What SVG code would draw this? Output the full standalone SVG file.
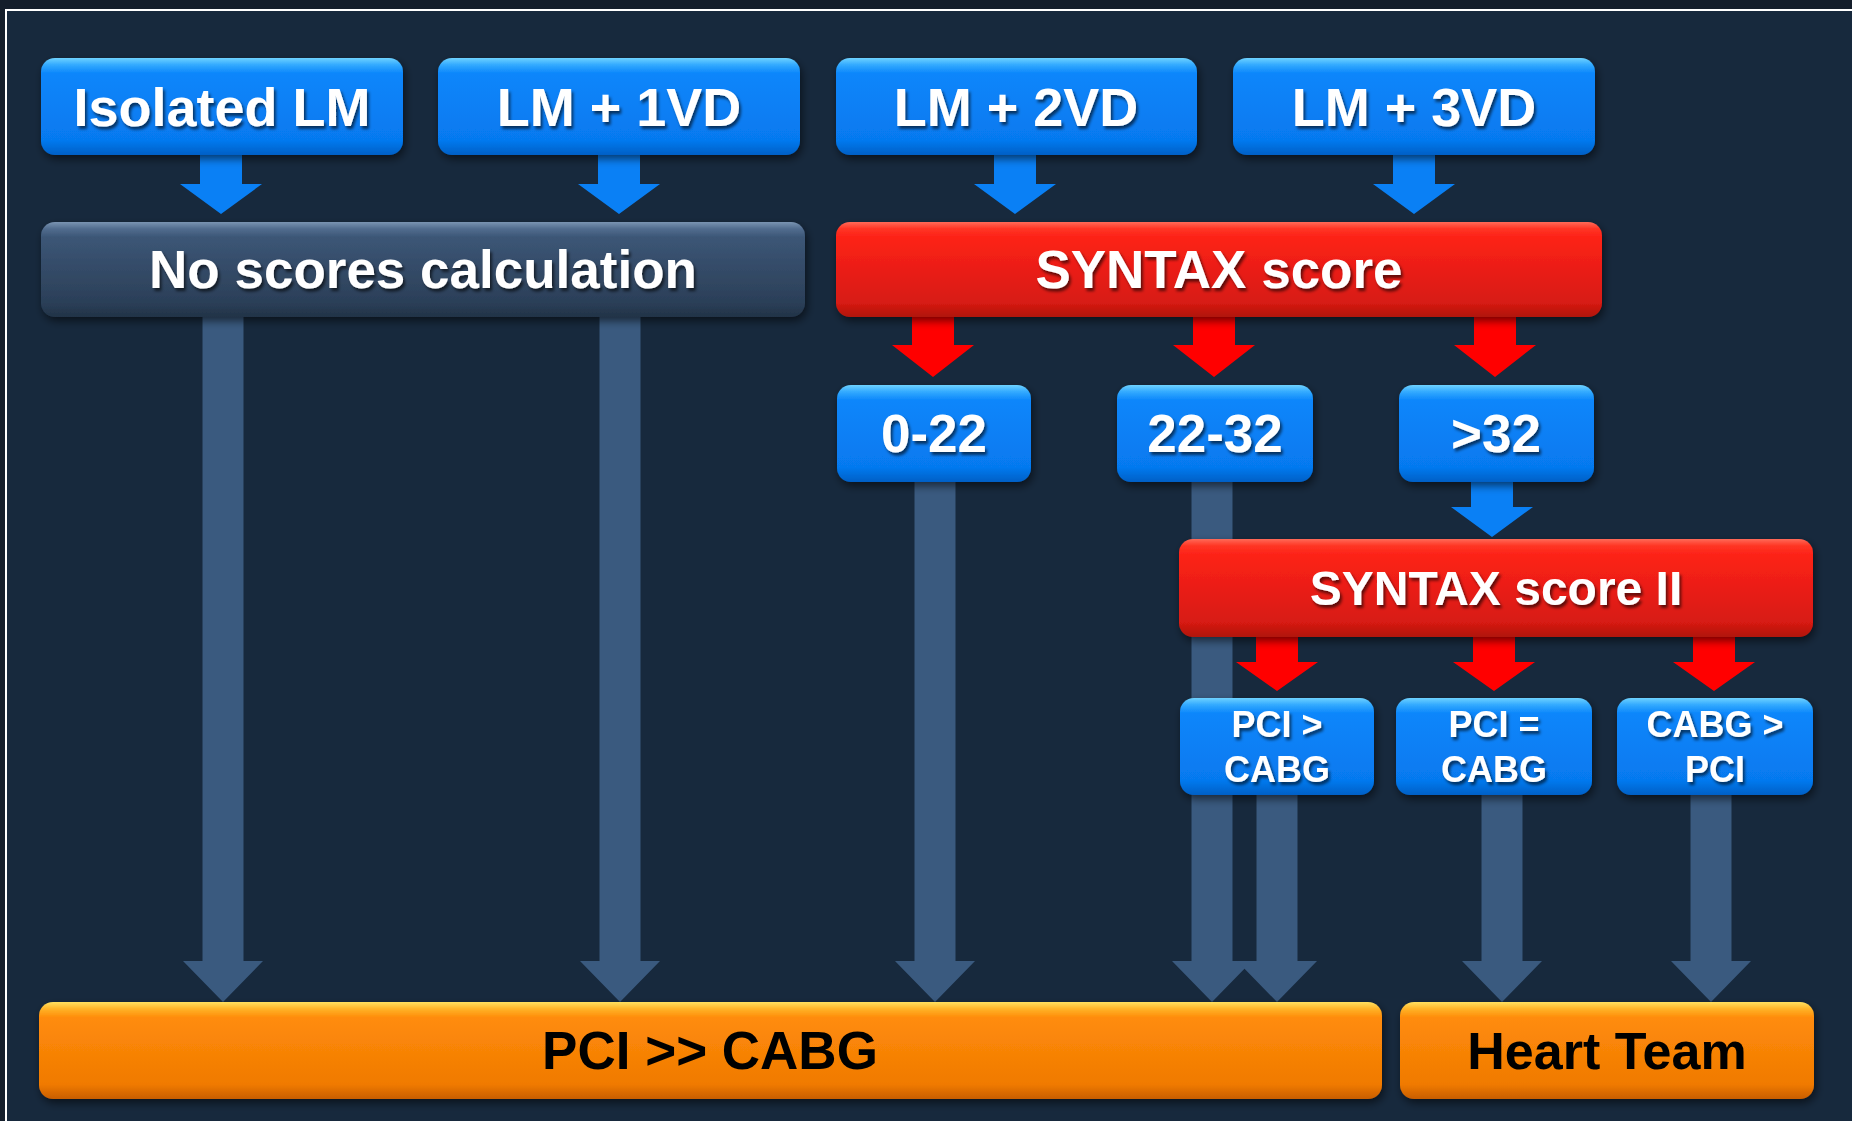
<svg xmlns="http://www.w3.org/2000/svg" width="1852" height="1121" viewBox="0 0 1852 1121">
<defs>
<linearGradient id="gBlue" x1="0" y1="0" x2="0" y2="1">
<stop offset="0" stop-color="#6fd2ff"/><stop offset="0.07" stop-color="#33aaff"/><stop offset="0.16" stop-color="#0c86fb"/><stop offset="0.85" stop-color="#0679ef"/><stop offset="1" stop-color="#0560c6"/>
</linearGradient>
<linearGradient id="gRed" x1="0" y1="0" x2="0" y2="1">
<stop offset="0" stop-color="#ff6a58"/><stop offset="0.07" stop-color="#ff3524"/><stop offset="0.16" stop-color="#fd2218"/><stop offset="0.85" stop-color="#d71a12"/><stop offset="1" stop-color="#b0140c"/>
</linearGradient>
<linearGradient id="gDark" x1="0" y1="0" x2="0" y2="1">
<stop offset="0" stop-color="#7a94b2"/><stop offset="0.07" stop-color="#526d8f"/><stop offset="0.16" stop-color="#3c5676"/><stop offset="0.85" stop-color="#2b3f58"/><stop offset="1" stop-color="#223347"/>
</linearGradient>
<linearGradient id="gOrange" x1="0" y1="0" x2="0" y2="1">
<stop offset="0" stop-color="#ffe060"/><stop offset="0.07" stop-color="#ffb428"/><stop offset="0.16" stop-color="#ff8c0a"/><stop offset="0.85" stop-color="#f07a02"/><stop offset="1" stop-color="#c85e00"/>
</linearGradient>
<filter id="boxShadow" x="-10%" y="-20%" width="120%" height="150%">
<feDropShadow dx="2" dy="4" stdDeviation="4" flood-color="#000" flood-opacity="0.55"/>
</filter>
<filter id="txtShadow" x="-10%" y="-20%" width="120%" height="150%">
<feDropShadow dx="2" dy="3" stdDeviation="1.5" flood-color="#000" flood-opacity="0.6"/>
</filter>
<style>
.blue{fill:url(#gBlue);filter:url(#boxShadow)}
.red{fill:url(#gRed);filter:url(#boxShadow)}
.dark{fill:url(#gDark);filter:url(#boxShadow)}
.orange{fill:url(#gOrange);filter:url(#boxShadow)}
.t{font-family:"Liberation Sans",Arial,sans-serif;font-weight:bold;text-anchor:middle}
.w{fill:#fff;filter:url(#txtShadow)}
.k{fill:#000}
.ab{fill:#0a80f5}
.ar{fill:#ff0000}
.ag{fill:#3a5a7f}
</style>
</defs>
<rect x="0" y="0" width="1852" height="1121" fill="#141e2b"/>
<rect x="6" y="10" width="1860" height="1125" fill="#17293d" stroke="#ffffff" stroke-width="2"/>

<g id="connectors">
<path class="ag" d="M202.5,317 H243.5 V961 H263 L223,1002 L183,961 H202.5 Z"/>
<path class="ag" d="M599.5,317 H640.5 V961 H660 L620,1002 L580,961 H599.5 Z"/>
<path class="ag" d="M914.5,482 H955.5 V961 H975 L935,1002 L895,961 H914.5 Z"/>
<path class="ag" d="M1191.5,482 H1232.5 V961 H1252 L1212,1002 L1172,961 H1191.5 Z"/>
<path class="ag" d="M1256.5,795 H1297.5 V961 H1317 L1277,1002 L1237,961 H1256.5 Z"/>
<path class="ag" d="M1481.5,795 H1522.5 V961 H1542 L1502,1002 L1462,961 H1481.5 Z"/>
<path class="ag" d="M1690.5,795 H1731.5 V961 H1751 L1711,1002 L1671,961 H1690.5 Z"/>
<path class="ab" d="M200,155 H242 V184 H262 L221,214 L180,184 H200 Z"/>
<path class="ab" d="M598,155 H640 V184 H660 L619,214 L578,184 H598 Z"/>
<path class="ab" d="M994,155 H1036 V184 H1056 L1015,214 L974,184 H994 Z"/>
<path class="ab" d="M1393,155 H1435 V184 H1455 L1414,214 L1373,184 H1393 Z"/>
<path class="ar" d="M912,317 H954 V345 H974 L933,377 L892,345 H912 Z"/>
<path class="ar" d="M1193,317 H1235 V345 H1255 L1214,377 L1173,345 H1193 Z"/>
<path class="ar" d="M1474,317 H1516 V345 H1536 L1495,377 L1454,345 H1474 Z"/>
<path class="ab" d="M1471,480 H1513 V507 H1533 L1492,537 L1451,507 H1471 Z"/>
<path class="ar" d="M1256,637 H1298 V662 H1318 L1277,691 L1236,662 H1256 Z"/>
<path class="ar" d="M1473,637 H1515 V662 H1535 L1494,691 L1453,662 H1473 Z"/>
<path class="ar" d="M1693,637 H1735 V662 H1755 L1714,691 L1673,662 H1693 Z"/>
</g>

<g id="isolated-lm"><rect class="blue" x="41" y="58" width="362" height="97" rx="14"/><text class="t w" x="222" y="126" font-size="54">Isolated LM</text></g>
<g id="lm-1vd"><rect class="blue" x="438" y="58" width="362" height="97" rx="14"/><text class="t w" x="619" y="126" font-size="54">LM + 1VD</text></g>
<g id="lm-2vd"><rect class="blue" x="836" y="58" width="361" height="97" rx="14"/><text class="t w" x="1016" y="126" font-size="54">LM + 2VD</text></g>
<g id="lm-3vd"><rect class="blue" x="1233" y="58" width="362" height="97" rx="14"/><text class="t w" x="1414" y="126" font-size="54">LM + 3VD</text></g>

<g id="no-scores"><rect class="dark" x="41" y="222" width="764" height="95" rx="14"/><text class="t w" x="423" y="288" font-size="53">No scores calculation</text></g>
<g id="syntax-score"><rect class="red" x="836" y="222" width="766" height="95" rx="14"/><text class="t w" x="1219" y="288" font-size="53">SYNTAX score</text></g>

<g id="range-0-22"><rect class="blue" x="837" y="385" width="194" height="97" rx="14"/><text class="t w" x="934" y="452" font-size="53">0-22</text></g>
<g id="range-22-32"><rect class="blue" x="1117" y="385" width="196" height="97" rx="14"/><text class="t w" x="1215" y="452" font-size="53">22-32</text></g>
<g id="range-gt32"><rect class="blue" x="1399" y="385" width="195" height="97" rx="14"/><text class="t w" x="1496" y="452" font-size="53">&gt;32</text></g>

<g id="syntax-score-2"><rect class="red" x="1179" y="539" width="634" height="98" rx="14"/><text class="t w" x="1496" y="605" font-size="48">SYNTAX score II</text></g>

<g id="pci-gt-cabg"><rect class="blue" x="1180" y="698" width="194" height="97" rx="14"/><text class="t w" x="1277" y="737" font-size="36">PCI &gt;</text><text class="t w" x="1277" y="782" font-size="36">CABG</text></g>
<g id="pci-eq-cabg"><rect class="blue" x="1396" y="698" width="196" height="97" rx="14"/><text class="t w" x="1494" y="737" font-size="36">PCI =</text><text class="t w" x="1494" y="782" font-size="36">CABG</text></g>
<g id="cabg-gt-pci"><rect class="blue" x="1617" y="698" width="196" height="97" rx="14"/><text class="t w" x="1715" y="737" font-size="36">CABG &gt;</text><text class="t w" x="1715" y="782" font-size="36">PCI</text></g>

<g id="pci-much-gt-cabg"><rect class="orange" x="39" y="1002" width="1343" height="97" rx="14"/><text class="t k" x="710" y="1069" font-size="53">PCI &gt;&gt; CABG</text></g>
<g id="heart-team"><rect class="orange" x="1400" y="1002" width="414" height="97" rx="14"/><text class="t k" x="1607" y="1069" font-size="52">Heart Team</text></g>
</svg>
